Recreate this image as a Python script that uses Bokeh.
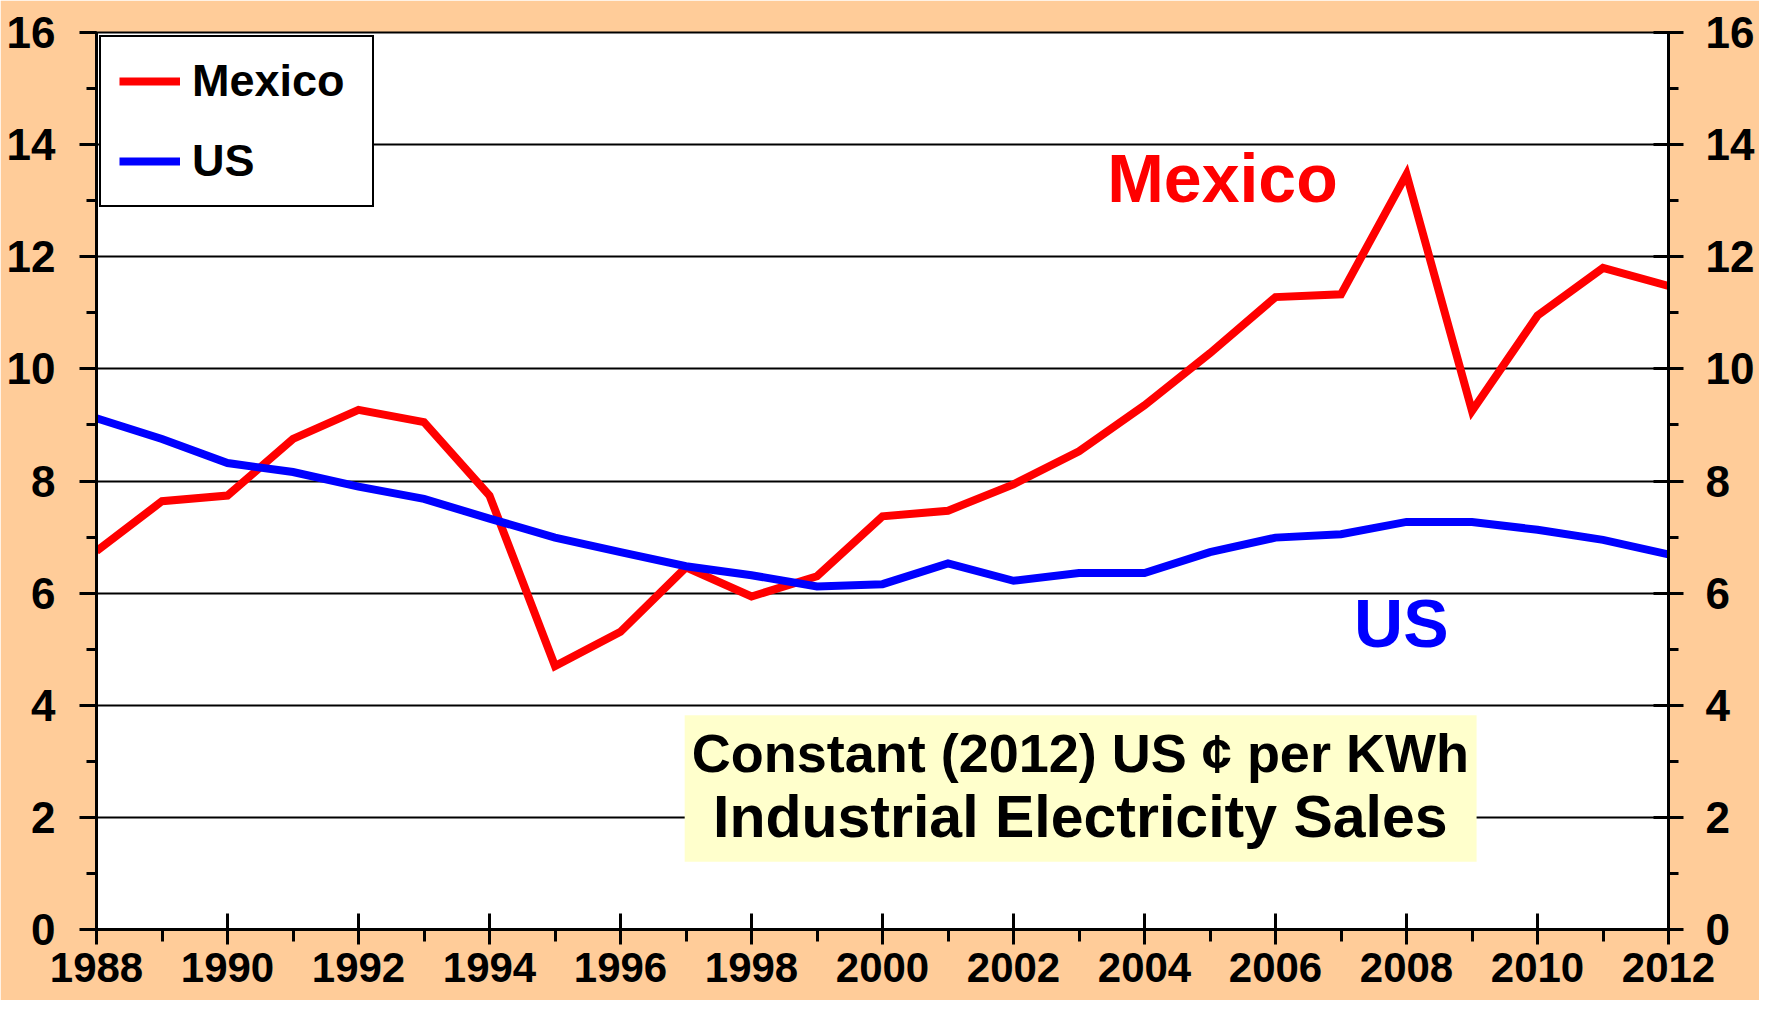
from bokeh.plotting import figure
from bokeh.models import (LinearAxis, SingleIntervalTicker, Legend, LegendItem,
                          BoxAnnotation, Label, ColumnDataSource, Range1d)
from bokeh.embed import file_html
from bokeh.resources import INLINE

# ---- data ----
years = list(range(1988, 2013))
mexico = [6.75, 7.64, 7.74, 8.75, 9.27, 9.05, 7.74, 4.70, 5.31, 6.46, 5.94, 6.30,
          7.37, 7.47, 7.94, 8.53, 9.35, 10.28, 11.28, 11.33, 13.47, 9.25, 10.95, 11.80, 11.48]
us = [9.12, 8.75, 8.32, 8.16, 7.90, 7.68, 7.33, 6.99, 6.73, 6.48, 6.32, 6.12,
      6.16, 6.53, 6.22, 6.36, 6.36, 6.73, 6.99, 7.05, 7.27, 7.27, 7.13, 6.95, 6.69]
series_names = ["Mexico", "US"]
note_lines = ["Constant (2012) US \u00a2 per KWh", "Industrial Electricity Sales"]

BG = "#FFCC99"
FONT = "Liberation Sans"

p = figure(width=1759, height=1000, output_backend="svg", toolbar_location=None,
           x_range=Range1d(1988, 2012), y_range=Range1d(0, 16),
           min_border_left=96, min_border_right=91, min_border_top=32, min_border_bottom=71,
           background_fill_color="white", border_fill_color=BG)

p.outline_line_color = "black"
p.outline_line_width = 2
p.outline_line_alpha = 1.0

src = ColumnDataSource(dict(year=years, mexico=mexico, us=us))
r_mx = p.line("year", "mexico", source=src, line_color="#FF0000", line_width=8,
              line_join="miter")
r_us = p.line("year", "us", source=src, line_color="#0000FF", line_width=8,
              line_join="miter")

# axes
def style_axis(ax, tin, tout, mout, size="44px"):
    ax.ticker = SingleIntervalTicker(interval=2, num_minor_ticks=2)
    ax.axis_line_color = "black"
    ax.axis_line_width = 3
    ax.major_tick_line_color = "black"
    ax.major_tick_line_width = 3
    ax.minor_tick_line_color = "black"
    ax.minor_tick_line_width = 3
    ax.major_tick_in = tin
    ax.major_tick_out = tout
    ax.minor_tick_in = 0
    ax.minor_tick_out = mout
    ax.major_label_text_font = FONT
    ax.major_label_text_font_style = "bold"
    ax.major_label_text_font_size = size
    ax.major_label_text_color = "black"

xax = p.xaxis[0]
style_axis(xax, 16, 15, 12, "42px")
xax.major_label_standoff = 8

yax = p.yaxis[0]
style_axis(yax, 0, 17, 10)
yax.major_label_standoff = 24

rax = LinearAxis()
style_axis(rax, 15, 15, 10)
rax.major_label_standoff = 22
p.add_layout(rax, "right")

p.xgrid.grid_line_color = None
p.ygrid.grid_line_color = "black"
p.ygrid.grid_line_width = 2
p.ygrid.ticker = SingleIntervalTicker(interval=2)

# annotation box
box = BoxAnnotation(left=1996.98, right=2009.07, bottom=1.21, top=3.82,
                    fill_color="#FFFFCC", fill_alpha=1.0, line_color=None, level="underlay")
p.add_layout(box)
p.add_layout(Label(x=2003.02, y=3.14, text=note_lines[0], text_align="center",
                   text_baseline="middle", text_font=FONT, text_font_style="bold",
                   text_font_size="54px", text_color="black"))
p.add_layout(Label(x=2003.02, y=2.0, text=note_lines[1], text_align="center",
                   text_baseline="middle", text_font=FONT, text_font_style="bold",
                   text_font_size="59px", text_color="black"))

# series labels
p.add_layout(Label(x=2005.19, y=13.40, text=series_names[0], text_align="center",
                   text_baseline="middle", text_font=FONT, text_font_style="bold",
                   text_font_size="68px", text_color="#FF0000"))
p.add_layout(Label(x=2007.92, y=5.47, text=series_names[1], text_align="center",
                   text_baseline="middle", text_font=FONT, text_font_style="bold",
                   text_font_size="68px", text_color="#0000FF"))

legend = Legend(items=[LegendItem(label=series_names[0], renderers=[r_mx]),
                       LegendItem(label=series_names[1], renderers=[r_us])],
                location="top_left")
legend.margin = 3
legend.padding = 18
legend.spacing = 28
legend.glyph_width = 61
legend.glyph_height = 40
legend.label_height = 40
legend.label_width = 162
legend.label_standoff = 12
legend.label_text_font = FONT
legend.label_text_font_style = "bold"
legend.label_text_font_size = "45px"
legend.label_text_color = "black"
legend.border_line_color = "black"
legend.border_line_width = 2
legend.border_line_alpha = 1.0
legend.background_fill_color = "white"
legend.background_fill_alpha = 1.0
p.add_layout(legend)

open("out.html", "w").write(file_html(p, INLINE))
